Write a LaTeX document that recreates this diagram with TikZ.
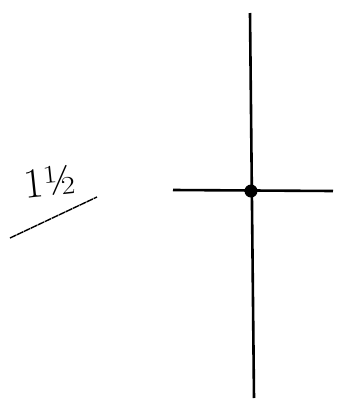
\documentclass[tikz,border=0pt]{standalone}
\begin{document}
\begin{tikzpicture}[x=1pt,y=-1pt,
  axisline/.style={line width=2.6pt,black},
  underl/.style={line width=1.4pt,black,dash pattern=on 7pt off 0.7pt},
  label/.style={font=\Huge,inner sep=0pt,scale=1.7}]
\useasboundingbox (0,0) rectangle (338,400);
\coordinate (vtop) at (250,13);
\coordinate (vbot) at (254,398);
\coordinate (hl) at (173,190);
\coordinate (hr) at (333,191);
\draw[axisline] (vtop) -- (vbot);
\draw[axisline] (hl) -- (hr);
\node[circle,fill=black,minimum size=13pt,inner sep=0pt] (dot) at (251,191) {};
\node[label,rotate=6] (half) at (50,181) {1\textonehalf};
\coordinate (ua) at (10,238);
\coordinate (ub) at (97,197);
\draw[underl] (ua) -- (ub);
\end{tikzpicture}
\end{document}
